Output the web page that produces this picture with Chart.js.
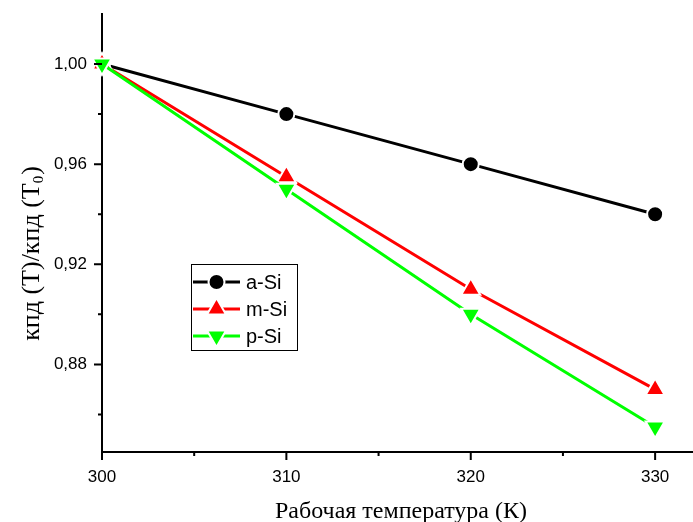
<!DOCTYPE html>
<html>
<head>
<meta charset="utf-8">
<script src="https://cdn.jsdelivr.net/npm/chart.js@4"></script>
<style>
  html, body { margin: 0; padding: 0; background: #fff; }
</style>
</head>
<body>
<canvas id="chart" width="693" height="522"></canvas>
<script>
// Data
const temps = [300, 310, 320, 330];
const aSi = [1.00, 0.98, 0.96, 0.94];
const mSi = [1.00, 0.955, 0.91, 0.87];
const pSi = [1.00, 0.95, 0.90, 0.855];

// Ticks
const xMajor = [300, 310, 320, 330];
const xMinor = [305, 315, 325];
const yMajor = [0.88, 0.92, 0.96, 1.00];
const yMinor = [0.86, 0.90, 0.94, 0.98];

const seriesNames = ['a-Si', 'm-Si', 'p-Si'];
const xTitle = 'Рабочая температура (К)';

const serif = '"Liberation Serif", "Times New Roman", serif';
const titleFont = '26px ' + serif;

const toPts = (ys) => temps.map((t, i) => ({ x: t, y: ys[i] }));

// ticks, axis titles and the legend box
const extras = {
    id: 'extras',
    afterDraw(chart) {
        const ctx = chart.ctx;
        const xs = chart.scales.x;
        const ys = chart.scales.y;
        const area = chart.chartArea;
        ctx.save();
        ctx.strokeStyle = '#000';
        ctx.lineWidth = 2;
        ctx.beginPath();
        xMajor.forEach(v => { const p = xs.getPixelForValue(v); ctx.moveTo(p, area.bottom); ctx.lineTo(p, area.bottom + 8); });
        xMinor.forEach(v => { const p = xs.getPixelForValue(v); ctx.moveTo(p, area.bottom); ctx.lineTo(p, area.bottom + 4); });
        yMajor.forEach(v => { const p = ys.getPixelForValue(v); ctx.moveTo(area.left, p); ctx.lineTo(area.left - 8, p); });
        yMinor.forEach(v => { const p = ys.getPixelForValue(v); ctx.moveTo(area.left, p); ctx.lineTo(area.left - 4, p); });
        ctx.stroke();

        // x title
        ctx.fillStyle = '#000';
        ctx.font = '24px ' + serif;
        ctx.textAlign = 'center';
        ctx.textBaseline = 'alphabetic';
        ctx.fillText(xTitle, 401, 518);

        // y title with subscript
        ctx.save();
        ctx.translate(39, 254);
        ctx.rotate(-Math.PI / 2);
        const main = 'кпд (Т)/кпд (Т';
        const sub = '0';
        const close = ')';
        const subFont = '15px ' + serif;
        ctx.font = titleFont;
        const wMain = ctx.measureText(main).width;
        const wClose = ctx.measureText(close).width;
        ctx.font = subFont;
        const wSub = ctx.measureText(sub).width;
        const x0 = -(wMain + wSub + wClose) / 2;
        ctx.textAlign = 'left';
        ctx.font = titleFont;
        ctx.fillText(main, x0, 0);
        ctx.font = subFont;
        ctx.fillText(sub, x0 + wMain, 4);
        ctx.font = titleFont;
        ctx.fillText(close, x0 + wMain + wSub + 1, 0);
        ctx.restore();

        // legend
        const lx = 191.5, ly = 264.5, lw = 106, lh = 86;
        ctx.lineWidth = 1;
        ctx.strokeStyle = '#000';
        ctx.strokeRect(lx, ly, lw, lh);
        chart.data.datasets.slice().sort((a, b) => a.legendIdx - b.legendIdx).forEach((ds, i) => {
            const cy = 282 + i * 27;
            ctx.strokeStyle = ds.borderColor;
            ctx.lineWidth = 3;
            ctx.beginPath();
            ctx.moveTo(193, cy);
            ctx.lineTo(240, cy);
            ctx.stroke();
            ctx.fillStyle = ds.borderColor;
            ctx.strokeStyle = '#fff';
            ctx.lineWidth = 2;
            Chart.helpers.drawPoint(ctx, {
                pointStyle: ds.pointStyle,
                rotation: ds.pointRotation || 0,
                radius: ds.pointRadius,
                borderWidth: 2
            }, 216.5, cy);
            ctx.fillStyle = '#000';
            ctx.font = '20px "Liberation Sans", Arial, sans-serif';
            ctx.textAlign = 'left';
            ctx.textBaseline = 'middle';
            ctx.fillText(ds.label, 246, cy + 1);
        });
        ctx.restore();
    }
};

const mkSet = (label, ys, color, style, rot, r, order, idx) => ({
    label: label,
    data: toPts(ys),
    borderColor: color,
    backgroundColor: color,
    pointBackgroundColor: color,
    pointBorderColor: '#fff',
    pointBorderWidth: 2,
    borderWidth: 3,
    pointStyle: style,
    pointRotation: rot,
    pointRadius: r,
    pointHoverRadius: r,
    clip: false,
    order: order,
    legendIdx: idx
});

const chart = new Chart(document.getElementById('chart'), {
    type: 'line',
    data: {
        datasets: [
            mkSet(seriesNames[0], aSi, '#000000', 'circle', 0, 8, 2, 0),
            mkSet(seriesNames[1], mSi, '#ff0000', 'triangle', 0, 11, 1, 1),
            mkSet(seriesNames[2], pSi, '#00ff00', 'triangle', 180, 11, 0, 2)
        ]
    },
    options: {
        responsive: false,
        animation: false,
        layout: { autoPadding: false, padding: { top: 14, right: 1, left: 0, bottom: 0 } },
        plugins: {
            legend: { display: false },
            tooltip: { enabled: false }
        },
        scales: {
            x: {
                type: 'linear',
                min: 300,
                max: 332,
                afterBuildTicks: (s) => { s.ticks = xMajor.map(v => ({ value: v })); },
                afterFit: (s) => { s.height = 70; s.paddingLeft = 0; s.paddingRight = 0; },
                grid: { display: true, drawOnChartArea: false, drawTicks: false },
                border: { color: '#000', width: 2 },
                ticks: {
                    color: '#000',
                    font: { family: '"Liberation Sans", Arial, sans-serif', size: 17 },
                    padding: 15,
                    maxRotation: 0
                }
            },
            y: {
                type: 'linear',
                min: 0.845,
                max: 1.02,
                afterBuildTicks: (s) => { s.ticks = yMinor.concat(yMajor).sort((a, b) => a - b).map(v => ({ value: v })); },
                afterFit: (s) => { s.width = 102; s.paddingTop = 0; s.paddingBottom = 0; },
                grid: { display: true, drawOnChartArea: false, drawTicks: false },
                border: { color: '#000', width: 2 },
                ticks: {
                    color: '#000',
                    font: { family: '"Liberation Sans", Arial, sans-serif', size: 17 },
                    padding: 15,
                    callback: (v) => yMajor.some(m => Math.abs(m - v) < 1e-6) ? v.toFixed(2).replace('.', ',') : ''
                }
            }
        }
    },
    plugins: [extras]
});
</script>
</body>
</html>
